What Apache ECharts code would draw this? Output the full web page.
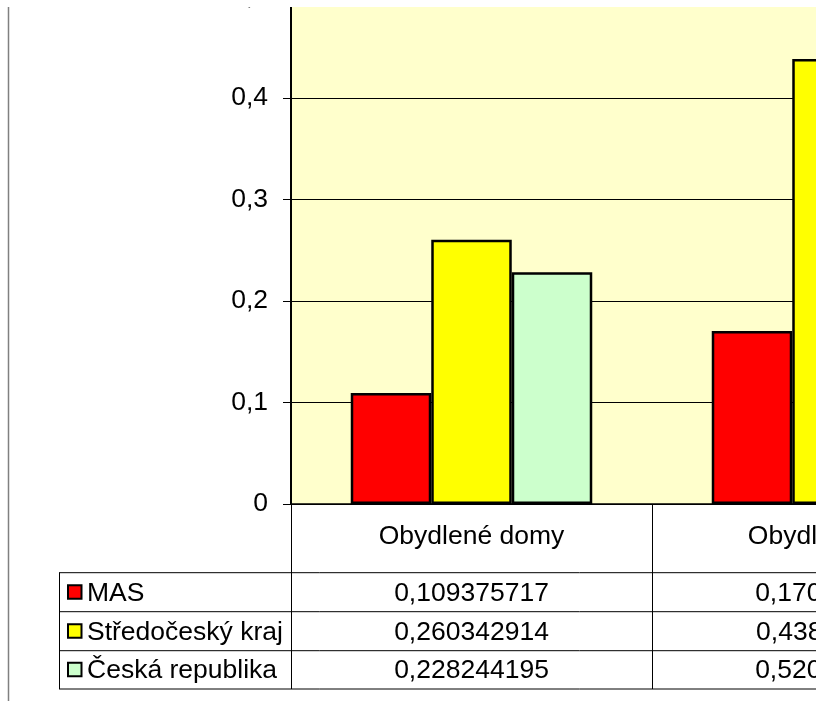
<!DOCTYPE html>
<html><head><meta charset="utf-8">
<script src="https://cdn.jsdelivr.net/npm/echarts@6/dist/echarts.min.js"></script>
<style>html,body{margin:0;padding:0;background:#fff;width:828px;height:701px;overflow:hidden}</style>
</head><body>
<div id="clip" style="position:absolute;left:0;top:7px;width:816px;height:694px;overflow:hidden">
  <div id="c" style="position:absolute;left:0;top:-130px;width:1100px;height:824px"></div>
</div>
<script>
var categories = ['Obydlené domy', 'Obydlené byty'];
var seriesNames = ['MAS', 'Středočeský kraj', 'Česká republika'];
var mas = [0.109375717, 0.170385442];
var stredocesky = [0.260342914, 0.438493116];
var cr = [0.228244195, 0.520183470];
var yTicks = {min: 0, max: 0.6, interval: 0.1};

var colors = ['#FF0000', '#FFFF00', '#CCFFCC'];
var values = [mas, stredocesky, cr];
var FONT = 'Liberation Sans, Arial, sans-serif';
var FS = 26.5;

var chart = echarts.init(document.getElementById('c'), null, {renderer: 'canvas'});
function fmt(v){ return v === 0 ? '0' : String(+v.toFixed(1)).replace('.', ','); }
function fmtFull(v){ return v.toFixed(9).replace('.', ','); }

var option = {
  animation: false,
  backgroundColor: 'transparent',
  grid: {left: 291, top: 18, width: 722, height: 609, show: true, backgroundColor: '#FFFFCC', borderWidth: 0, outerBoundsMode: 'none'},
  xAxis: {
    type: 'category', data: categories, boundaryGap: true,
    axisLine: {lineStyle: {color: '#000', width: 1.5}},
    axisTick: {show: true, length: 185, alignWithLabel: false, lineStyle: {color: '#000', width: 1}},
    axisLabel: {margin: 20, color: '#000', fontFamily: FONT, fontSize: FS, lineHeight: 26}
  },
  yAxis: {
    type: 'value', min: yTicks.min, max: yTicks.max, interval: yTicks.interval,
    axisLine: {show: true, lineStyle: {color: '#000', width: 2}},
    axisTick: {show: true, length: 8, lineStyle: {color: '#000', width: 1}},
    axisLabel: {margin: 23, color: '#000', fontFamily: FONT, fontSize: FS, formatter: fmt},
    splitLine: {show: true, lineStyle: {color: '#000', width: 1}}
  },
  series: seriesNames.map(function(n, i){
    return {
      name: n, type: 'bar', data: values[i], barWidth: 80.5, barGap: '0%',
      itemStyle: {color: colors[i], borderColor: '#000', borderWidth: 2.5}
    };
  })
};
chart.setOption(option);

// data table built from the same arrays
var rowLines = [695.7, 734.7, 773.7, 812];
var g = [];
g.push({type: 'line', shape: {x1: 8.5, y1: 130, x2: 8.5, y2: 830}, style: {stroke: '#808080', lineWidth: 1.5}});
rowLines.forEach(function(y){
  g.push({type: 'line', shape: {x1: 59, y1: y, x2: 1100, y2: y}, style: {stroke: '#000', lineWidth: 1}});
});
g.push({type: 'line', shape: {x1: 59.5, y1: rowLines[0], x2: 59.5, y2: rowLines[3]}, style: {stroke: '#000', lineWidth: 1}});
seriesNames.forEach(function(n, i){
  var yc = (rowLines[i] + rowLines[i+1]) / 2;
  g.push({type: 'rect', shape: {x: 68, y: yc - 7, width: 13.5, height: 13.5}, style: {fill: colors[i], stroke: '#000', lineWidth: 2}});
  g.push({type: 'text', x: 87, y: yc + 1, style: {text: n, font: FS + 'px ' + FONT, fill: '#000', textVerticalAlign: 'middle', verticalAlign: 'middle'}});
  categories.forEach(function(c, j){
    var px = chart.convertToPixel({xAxisIndex: 0}, c);
    g.push({type: 'text', x: px, y: yc + 1, style: {text: fmtFull(values[i][j]), font: FS + 'px ' + FONT, fill: '#000', align: 'center', textAlign: 'center', verticalAlign: 'middle', textVerticalAlign: 'middle'}});
  });
});
chart.setOption({graphic: g});
</script>
</body></html>
